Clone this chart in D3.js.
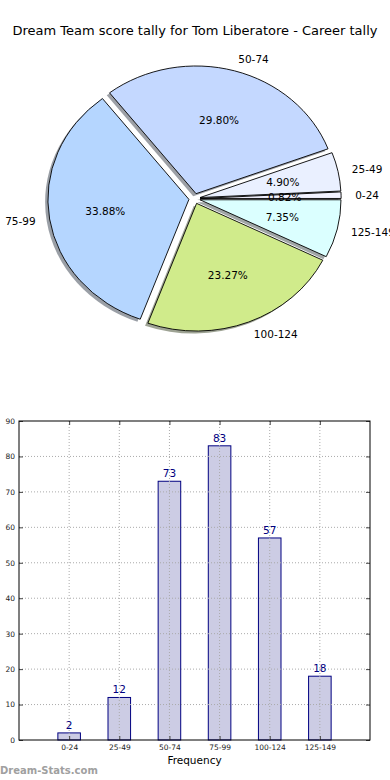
<!DOCTYPE html>
<html>
<head>
<meta charset="utf-8">
<script src="https://cdn.jsdelivr.net/npm/d3@7"></script>
<style>
  body { margin: 0; background: #fff; }
  svg { display: block; font-family: "DejaVu Sans", sans-serif; }
</style>
</head>
<body>
<svg id="chart" width="390" height="780"></svg>
<script>
/* global d3 */
const categories = ['0-24', '25-49', '50-74', '75-99', '100-124', '125-149'];
const counts = [2, 12, 73, 83, 57, 18];
const sliceColors = ['#f2f2ff', '#eaf0ff', '#c4d8ff', '#b5d6ff', '#d0eb8b', '#dbffff'];
const yTicks = [0, 10, 20, 30, 40, 50, 60, 70, 80, 90];

const svg = d3.select('#chart');

svg.append('text')
  .attr('x', 195)
  .attr('y', 35)
  .attr('text-anchor', 'middle')
  .attr('font-size', '13px')
  .attr('fill', '#000')
  .text('Dream Team score tally for Tom Liberatore - Career tally');

// ---- pie ----
let cx = 194.5, cy = 198.6, rx = 141, ry = 127.7;
let explode = 0.04;
let total = d3.sum(counts);

let pie = d3.pie().sort(null)
  .startAngle(Math.PI / 2)
  .endAngle(Math.PI / 2 - 2 * Math.PI);
let arcs = pie(counts);
let arc = d3.arc().innerRadius(0).outerRadius(100);

function offset(d) {
  let a = (d.startAngle + d.endAngle) / 2;
  return [cx + explode * rx * Math.sin(a), cy - explode * ry * Math.cos(a), a];
}

let pieG = svg.append('g');

// shadows first
arcs.forEach(function (d, i) {
  let o = offset(d);
  let c = d3.rgb(sliceColors[i]);
  pieG.append('path')
    .attr('transform', `translate(${o[0] - 2.8},${o[1] + 2.5}) scale(${rx / 100},${ry / 100})`)
    .attr('d', arc(d))
    .attr('fill', d3.rgb(c.r * 0.3, c.g * 0.3, c.b * 0.3))
    .attr('fill-opacity', 0.5);
});

arcs.forEach(function (d, i) {
  let o = offset(d);
  pieG.append('path')
    .attr('transform', `translate(${o[0]},${o[1]}) scale(${rx / 100},${ry / 100})`)
    .attr('d', arc(d))
    .attr('fill', sliceColors[i])
    .attr('stroke', '#000')
    .attr('stroke-width', 0.9)
    .attr('vector-effect', 'non-scaling-stroke');
});

arcs.forEach(function (d, i) {
  let o = offset(d);
  let a = o[2];
  pieG.append('text')
    .attr('x', o[0] + 1.1 * rx * Math.sin(a))
    .attr('y', o[1] - 1.1 * ry * Math.cos(a))
    .attr('text-anchor', Math.sin(a) > 0 ? 'start' : 'end')
    .attr('dominant-baseline', 'central')
    .attr('font-size', '10.5px')
    .text(categories[i]);
  pieG.append('text')
    .attr('x', o[0] + 0.6 * rx * Math.sin(a))
    .attr('y', o[1] - 0.6 * ry * Math.cos(a))
    .attr('text-anchor', 'middle')
    .attr('dominant-baseline', 'central')
    .attr('font-size', '10.5px')
    .text(d3.format('.2f')(counts[i] / total * 100) + '%');
});

// ---- bars ----
let plotLeft = 19, plotRight = 370, plotTop = 421, plotBottom = 740;
let x = d3.scaleLinear().domain([0, categories.length + 1]).range([plotLeft, plotRight]);
let y = d3.scaleLinear().domain([0, 90]).range([plotBottom, plotTop]);
let barW = 0.45;
let pos = categories.map((c, i) => i + 1);

let barG = svg.append('g');

barG.selectAll('.bar')
  .data(counts)
  .enter()
  .append('rect')
  .attr('class', 'bar')
  .attr('x', (d, i) => x(pos[i] - barW / 2))
  .attr('width', x(barW) - x(0))
  .attr('y', d => y(d))
  .attr('height', d => y(0) - y(d))
  .attr('fill', '#cccce4')
  .attr('stroke', '#000080')
  .attr('stroke-width', 1);

// grid
barG.selectAll('.hgrid')
  .data(yTicks.slice(1, -1))
  .enter()
  .append('line')
  .attr('x1', plotLeft).attr('x2', plotRight)
  .attr('y1', d => y(d)).attr('y2', d => y(d))
  .attr('stroke', '#aaa')
  .attr('stroke-dasharray', '1,2');

barG.selectAll('.vgrid')
  .data(pos)
  .enter()
  .append('line')
  .attr('x1', d => x(d)).attr('x2', d => x(d))
  .attr('y1', plotTop).attr('y2', plotBottom)
  .attr('stroke', '#aaa')
  .attr('stroke-dasharray', '1,2');

barG.selectAll('.val')
  .data(counts)
  .enter()
  .append('text')
  .attr('x', (d, i) => x(pos[i]))
  .attr('y', d => y(d) - 4)
  .attr('text-anchor', 'middle')
  .attr('font-size', '10.5px')
  .attr('fill', '#000080')
  .text(d => d);

// axes
let leftAxis = barG.append('g')
  .attr('transform', `translate(${plotLeft},0)`)
  .call(d3.axisLeft(y).tickValues(yTicks).tickSize(-4).tickPadding(4));
let bottomAxis = barG.append('g')
  .attr('transform', `translate(0,${plotBottom})`)
  .call(d3.axisBottom(x).tickValues(pos).tickFormat((d, i) => categories[i]).tickSize(-4).tickPadding(5));
barG.append('g')
  .attr('transform', `translate(${plotRight},0)`)
  .call(d3.axisRight(y).tickValues(yTicks).tickSize(-4).tickFormat(''));
barG.append('g')
  .attr('transform', `translate(0,${plotTop})`)
  .call(d3.axisTop(x).tickValues(pos).tickSize(-4).tickFormat(''));

barG.selectAll('.domain').remove();
barG.selectAll('.tick line').attr('stroke', '#444');
leftAxis.selectAll('text').attr('font-size', '7.5px').attr('font-family', '"DejaVu Sans", sans-serif').attr('fill', '#222');
bottomAxis.selectAll('text').attr('font-size', '7.5px').attr('font-family', '"DejaVu Sans", sans-serif').attr('fill', '#222');

barG.append('rect')
  .attr('x', plotLeft).attr('y', plotTop)
  .attr('width', plotRight - plotLeft).attr('height', plotBottom - plotTop)
  .attr('fill', 'none')
  .attr('stroke', '#000')
  .attr('stroke-width', 1);

svg.append('text')
  .attr('x', (plotLeft + plotRight) / 2)
  .attr('y', 764)
  .attr('text-anchor', 'middle')
  .attr('font-size', '10.5px')
  .text('Frequency');

svg.append('text')
  .attr('x', 0)
  .attr('y', 774)
  .attr('font-size', '10px')
  .attr('font-weight', 'bold')
  .attr('fill', '#a0a0a0')
  .text('Dream-Stats.com');
</script>
</body>
</html>
